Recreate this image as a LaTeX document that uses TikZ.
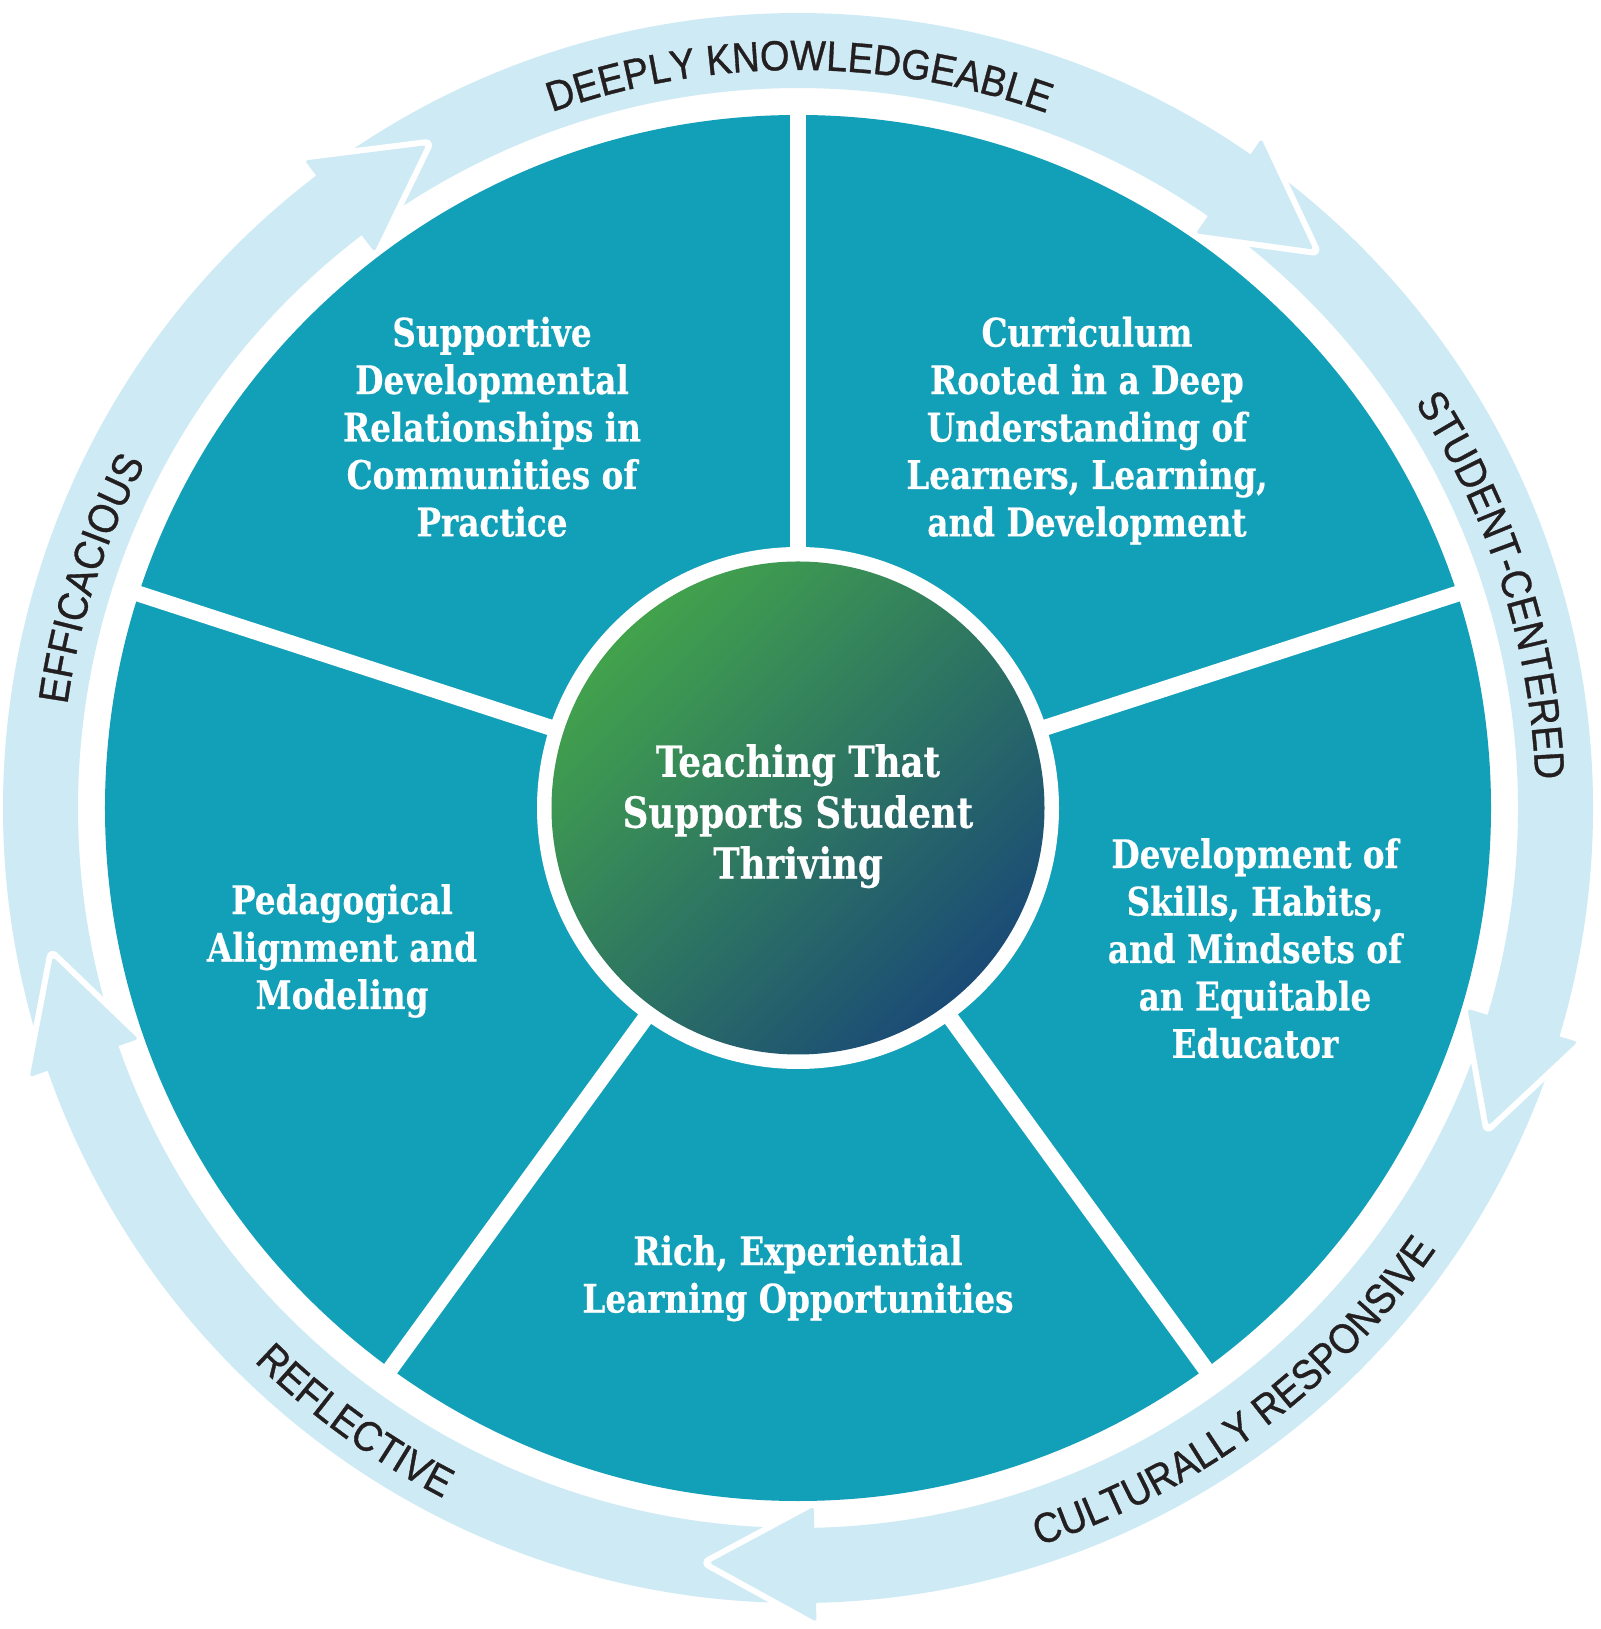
\documentclass[tikz,border=0pt]{standalone}
\usepackage{fontspec}
\setmainfont{DejaVu Serif}[FakeStretch=0.83, BoldFeatures={FakeBold=0.4}]
\newfontfamily\arcfont{Liberation Sans}[FakeStretch=0.9, FakeBold=0.8]
\usetikzlibrary{decorations.text}
\definecolor{tealc}{RGB}{18,159,184}
\definecolor{bandc}{RGB}{206,235,245}
\definecolor{greenc}{RGB}{70,171,72}
\definecolor{navyc}{RGB}{21,63,124}
\definecolor{labelc}{RGB}{35,31,32}
\pgfdeclarehorizontalshading{discshade}{100bp}{color(0bp)=(greenc); color(20bp)=(greenc); color(82bp)=(navyc); color(100bp)=(navyc)}
\newcommand\arclabfont{\arcfont\fontsize{12}{14}\selectfont}
\tikzset{
  segtext/.style={text=white, font=\bfseries\fontsize{11.2}{13.5}\selectfont, align=center, inner sep=0pt, anchor=north},
  centertext/.style={text=white, font=\bfseries\fontsize{12.2}{14.5}\selectfont, align=center, inner sep=0pt, anchor=north},
  spoke/.style={white, line width=0.16cm},
  headhalo/.style={white, line width=0.12cm, line join=round, line cap=round},
  arclabel/.style={decorate, decoration={text along path, text align=center, text color=labelc, text={|\arclabfont|#1}}}
}
\begin{document}
\begin{tikzpicture}
\useasboundingbox (-7.98,-8.21) rectangle (8.02,8.08);
\fill[white] (-7.98,-8.21) rectangle (8.02,8.08);

% curved bands of the five arrows
\foreach \b [evaluate=\b as \s using \b+69, evaluate=\b as \e using \b-0.3] in {127.3,55.3,-16.7,-88.7,-160.7} {
  \fill[bandc] (\s:7.20) arc[start angle=\s, end angle=\e, radius=7.20]
     -- (\e:7.95) arc[start angle=\e, end angle=\s, radius=7.95] -- cycle;
}
% arrow heads with white outline
\foreach \b [evaluate=\b as \t using \b-8] in {127.3,55.3,-16.7,-88.7,-160.7} {
  \draw[headhalo] (\b:6.99) -- (\t:7.60) -- (\b:8.14);
  \fill[bandc, rounded corners=0.03cm] (\b:6.99) -- (\t:7.60) -- (\b:8.14) -- cycle;
}

% wheel
\fill[tealc] (0,0) circle[radius=6.93];
\foreach \a in {90,18,-54,-126,162} \draw[spoke] (0,0) -- (\a:7.0);
\fill[white] (0,0) circle[radius=2.61];
\shade[shading=discshade, shading angle=-45] (0,0) circle[radius=2.465];

% texts
\node[centertext] (hub) at (0,0.645) {Teaching That\\Supports Student\\Thriving};
\node[segtext] (seg1) at (-3.06,4.92) {Supportive\\Developmental\\Relationships in\\Communities of\\Practice};
\node[segtext] (seg2) at (2.89,4.92) {Curriculum\\Rooted in a Deep\\Understanding of\\Learners, Learning,\\and Development};
\node[segtext] (seg3) at (4.57,-0.295) {Development of\\Skills, Habits,\\and Mindsets of\\an Equitable\\Educator};
\node[segtext] (seg4) at (0,-4.265) {Rich, Experiential\\Learning Opportunities};
\node[segtext] (seg5) at (-4.56,-0.755) {Pedagogical\\Alignment and\\Modeling};

% ring labels
\path[arclabel={DEEPLY KNOWLEDGEABLE}] (119.9:7.38) arc[start angle=119.9, end angle=59.9, radius=7.38];
\path[arclabel={STUDENT-CENTERED}] (47.75:7.38) arc[start angle=47.75, end angle=-12.25, radius=7.38];
\path[arclabel={EFFICACIOUS}] (192.05:7.38) arc[start angle=192.05, end angle=132.05, radius=7.38];
\path[arclabel={CULTURALLY RESPONSIVE}] (-83.3:7.76) arc[start angle=-83.3, end angle=-23.3, radius=7.76];
\path[arclabel={REFLECTIVE}] (-155.85:7.76) arc[start angle=-155.85, end angle=-95.85, radius=7.76];
\end{tikzpicture}
\end{document}
